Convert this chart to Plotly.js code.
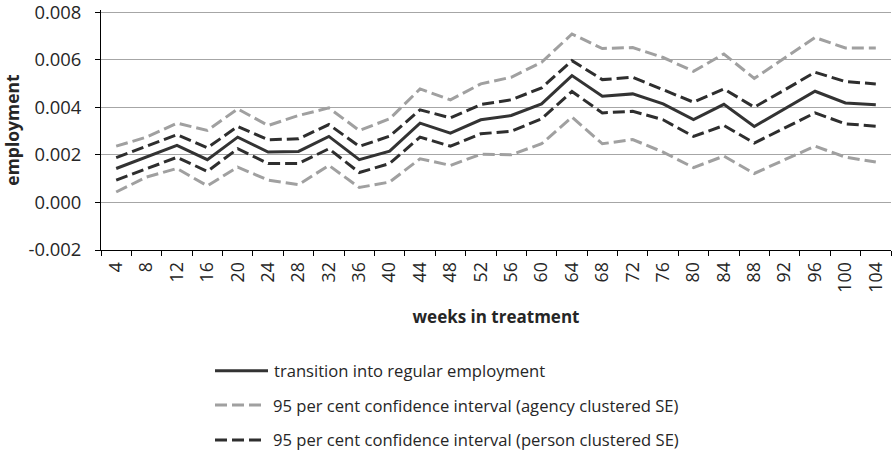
<!DOCTYPE html>
<html>
<head>
<meta charset="utf-8">
<script src="https://cdn.plot.ly/plotly-3.0.1.min.js"></script>
<style>html,body{margin:0;padding:0;background:#fff;}#chart{width:893px;height:451px;}</style>
</head>
<body>
<div id="chart"></div>
<script>
const weeks = ["4","8","12","16","20","24","28","32","36","40","44","48","52","56","60","64","68","72","76","80","84","88","92","96","100","104"];
const estimate = [0.00143,0.00191,0.00240,0.00180,0.00275,0.00212,0.00215,0.00278,0.00180,0.00216,0.00334,0.00292,0.00348,0.00366,0.00415,0.00534,0.00447,0.00457,0.00415,0.00349,0.00413,0.00320,0.00394,0.00468,0.00419,0.00411];
const agencyUpper = [0.00237,0.00275,0.00334,0.00303,0.00394,0.00324,0.00366,0.00398,0.00303,0.00352,0.00478,0.00432,0.00499,0.00527,0.00590,0.00709,0.00648,0.00652,0.00610,0.00552,0.00625,0.00522,0.00608,0.00694,0.00650,0.00650];
const agencyLower = [0.00044,0.00107,0.00143,0.00070,0.00149,0.00094,0.00075,0.00156,0.00063,0.00086,0.00184,0.00156,0.00203,0.00201,0.00247,0.00359,0.00247,0.00265,0.00212,0.00147,0.00195,0.00122,0.00180,0.00237,0.00191,0.00170];
const personUpper = [0.00189,0.00236,0.00285,0.00230,0.00320,0.00264,0.00268,0.00328,0.00236,0.00279,0.00390,0.00356,0.00412,0.00432,0.00482,0.00597,0.00517,0.00527,0.00474,0.00422,0.00478,0.00401,0.00474,0.00548,0.00509,0.00499];
const personLower = [0.00094,0.00143,0.00190,0.00131,0.00226,0.00164,0.00164,0.00226,0.00126,0.00164,0.00275,0.00237,0.00289,0.00300,0.00352,0.00467,0.00377,0.00384,0.00348,0.00278,0.00324,0.00250,0.00313,0.00377,0.00331,0.00321];
const yTickVals = [-0.002,0.000,0.002,0.004,0.006,0.008];
const yTickText = ["-0.002","0.000","0.002","0.004","0.006","0.008"];
const legendNames = ["transition into regular employment","95 per cent confidence interval (agency clustered SE)","95 per cent confidence interval (person clustered SE)"];

const SOLID = "#333333", DARK = "#2e2e2e", GRAY = "#a0a0a0";
const FONT = "Open Sans, sans-serif";
const TXT = "#262626";

function tr(y, color, dash, name){
  return {x: weeks, y: y, type: "scatter", mode: "lines", name: name, showlegend: false,
          line: {color: color, width: 3, dash: dash}, hoverinfo: "skip"};
}
const data = [
  tr(agencyUpper, GRAY, "12px,5px", legendNames[1]),
  tr(agencyLower, GRAY, "12px,5px", legendNames[1]),
  tr(personUpper, DARK, "12px,5px", legendNames[2]),
  tr(personLower, DARK, "12px,5px", legendNames[2]),
  tr(estimate, SOLID, "solid", legendNames[0])
];

// manual legend (paper coords; plot area px: x 101..891, y 10..250)
const PX = px => (px - 101) / 790;
const PY = py => (250 - py) / 240;
const rows = [370.7, 405, 440];
const legStyles = [[SOLID, "solid", 268, 272], [GRAY, "12px,5px", 264, 271], [DARK, "12px,5px", 264, 271]];
const shapes = [], annotations = [];
rows.forEach((ry, i) => {
  const s = legStyles[i];
  shapes.push({type: "line", xref: "paper", yref: "paper", x0: PX(215), x1: PX(s[2]), y0: PY(ry), y1: PY(ry),
               line: {color: s[0], width: 3, dash: s[1]}});
  annotations.push({xref: "paper", yref: "paper", x: PX(s[3]), y: PY(ry), xanchor: "left", yanchor: "middle",
                    showarrow: false, text: legendNames[i], font: {family: FONT, size: 16.6, color: TXT}});
});

const layout = {
  width: 893, height: 451,
  margin: {l: 101, r: 2, t: 10, b: 201},
  paper_bgcolor: "#fff", plot_bgcolor: "#fff",
  showlegend: false,
  font: {family: FONT, color: TXT},
  xaxis: {
    type: "category", range: [-0.5, 25.5], tickangle: -90,
    tickson: "boundaries", ticks: "outside", ticklen: 5, tickcolor: "#000", ticklabelstandoff: 4,
    showline: true, linecolor: "#000", linewidth: 1, showgrid: false, zeroline: false,
    tickfont: {family: FONT, size: 17.8, color: TXT},
    title: {text: "<b>weeks in treatment</b>", font: {family: FONT, size: 17, color: TXT}, standoff: 19}
  },
  yaxis: {
    range: [-0.002, 0.0081], tickvals: yTickVals, ticktext: yTickText,
    ticks: "outside", ticklen: 5, tickcolor: "#000", ticklabelstandoff: 10, ticklabeloverflow: "allow",
    showline: true, linecolor: "#000", linewidth: 1,
    showgrid: true, gridcolor: "#a6a6a6", gridwidth: 1, zeroline: false,
    tickfont: {family: FONT, size: 18.4, color: TXT},
    title: {text: "<b>employment</b>", font: {family: FONT, size: 17.5, color: TXT}, standoff: 23}
  },
  shapes: shapes, annotations: annotations
};
Plotly.newPlot("chart", data, layout, {displayModeBar: false, staticPlot: true});
</script>
</body>
</html>
